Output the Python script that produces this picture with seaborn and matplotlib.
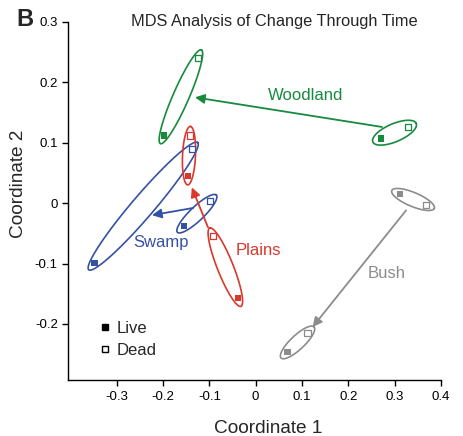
import seaborn as sns
import pandas as pd
import numpy as np
import matplotlib
matplotlib.use("Agg")
import matplotlib.pyplot as plt
from matplotlib.lines import Line2D

# habitat groups, values
habitats = ["Woodland", "Swamp", "Plains", "Bush"]
colors = ["#178a3e", "#3551a4", "#d9382c", "#8c8c8c"]

# "before" cluster (arrow start) and "after" cluster (arrow end)
live_before_x = [0.271, -0.155, -0.039, 0.312]
live_before_y = [0.107, -0.038, -0.157, 0.015]
dead_before_x = [0.329, -0.099, -0.092, 0.368]
dead_before_y = [0.126, 0.003, -0.055, -0.003]
live_after_x = [-0.198, -0.348, -0.146, 0.069]
live_after_y = [0.112, -0.099, 0.045, -0.246]
dead_after_x = [-0.125, -0.138, -0.142, 0.112]
dead_after_y = [0.240, 0.089, 0.112, -0.215]

arrow_x0 = [0.273, -0.135, -0.103, 0.325]
arrow_y0 = [0.126, -0.008, -0.040, -0.012]
arrow_x1 = [-0.131, -0.224, -0.138, 0.123]
arrow_y1 = [0.175, -0.020, 0.026, -0.205]

label_x = [0.107, -0.204, 0.006, 0.282]
label_y = [0.178, -0.065, -0.079, -0.117]

x_ticks = [-0.3, -0.2, -0.1, 0, 0.1, 0.2, 0.3, 0.4]
y_ticks = [-0.2, -0.1, 0, 0.1, 0.2, 0.3]

rows = []
for i, h in enumerate(habitats):
    rows.append([h, "before", "Live", live_before_x[i], live_before_y[i]])
    rows.append([h, "before", "Dead", dead_before_x[i], dead_before_y[i]])
    rows.append([h, "after", "Live", live_after_x[i], live_after_y[i]])
    rows.append([h, "after", "Dead", dead_after_x[i], dead_after_y[i]])
df = pd.DataFrame(rows, columns=["habitat", "period", "status", "x", "y"])

sns.set_theme(style="ticks")
plt.rcParams["font.family"] = ["Liberation Sans", "DejaVu Sans"]

fig = plt.figure(figsize=(4.64, 4.36), dpi=100)
ax = fig.add_axes([0.147, 0.128, 0.803, 0.822])
ax.set_xlim(-0.405, 0.4)
ax.set_ylim(-0.293, 0.3)

pal = dict(zip(habitats, colors))

# ellipses around each live/dead pair, built in pixel space
minor = {"Woodland": (9, 8), "Swamp": (7, 11), "Plains": (8, 6.5), "Bush": (7, 7)}
for h in habitats:
    for k, period in enumerate(["before", "after"]):
        sub = df[(df.habitat == h) & (df.period == period)]
        p = ax.transData.transform(sub[["x", "y"]].values)
        c = p.mean(axis=0)
        d = p[1] - p[0]
        ang = np.arctan2(d[1], d[0])
        a = np.hypot(*d) / 2 + 9
        b = minor[h][k]
        t = np.linspace(0, 2 * np.pi, 200)
        ex = a * np.cos(t)
        ey = b * np.sin(t)
        px = c[0] + ex * np.cos(ang) - ey * np.sin(ang)
        py = c[1] + ex * np.sin(ang) + ey * np.cos(ang)
        pts = ax.transData.inverted().transform(np.column_stack([px, py]))
        ax.plot(pts[:, 0], pts[:, 1], color=pal[h], lw=1.2)

live = df[df.status == "Live"]
dead = df[df.status == "Dead"]
sns.scatterplot(data=live, x="x", y="y", hue="habitat", palette=pal, marker="s",
                s=20, linewidth=0, legend=False, ax=ax, zorder=3)
sns.scatterplot(data=dead, x="x", y="y", hue="habitat", palette=pal, marker="s",
                s=20, linewidth=0.9, legend=False, ax=ax, zorder=3)
coll = ax.collections[-1]
coll.set_edgecolors(coll.get_facecolors())
coll.set_facecolors("white")

for i, h in enumerate(habitats):
    ax.annotate("", xy=(arrow_x1[i], arrow_y1[i]), xytext=(arrow_x0[i], arrow_y0[i]),
                arrowprops=dict(arrowstyle="-|>", color=colors[i], lw=1.3,
                                mutation_scale=14, shrinkA=0, shrinkB=0))
    ax.text(label_x[i], label_y[i], h, color=colors[i], fontsize=12,
            ha="center", va="center")

handles = [Line2D([], [], marker="s", ls="", color="black", markersize=4.5, label="Live"),
           Line2D([], [], marker="s", ls="", markerfacecolor="white",
                  markeredgecolor="black", markersize=4.5, label="Dead")]
ax.legend(handles=handles, loc="lower left", bbox_to_anchor=(0.04, 0.02),
          frameon=False, fontsize=12, handlelength=0.8, handletextpad=0.3,
          labelspacing=0.45)

ax.set_xticks(x_ticks)
ax.set_xticklabels(["0" if v == 0 else f"{v:g}" for v in x_ticks])
ax.set_yticks(y_ticks)
ax.set_yticklabels(["0" if v == 0 else f"{v:g}" for v in y_ticks])
ax.tick_params(labelsize=9.5, length=4, width=1, colors="black")
for s in ["top", "right"]:
    ax.spines[s].set_visible(False)
for s in ["left", "bottom"]:
    ax.spines[s].set_color("black")
    ax.spines[s].set_linewidth(1)

ax.set_xlabel("Coordinate 1", fontsize=13.7)
ax.set_ylabel("Coordinate 2", fontsize=13.7)
ax.xaxis.set_label_coords(0.536, -0.112)
ax.yaxis.set_label_coords(-0.11, 0.547)
ax.text(0.552, 0.3, "MDS Analysis of Change Through Time", fontsize=11.8,
        ha="center", va="center", transform=ax.get_yaxis_transform())
fig.text(0.054, 0.955, "B", fontsize=17, fontweight="bold", ha="center", va="center")

fig.savefig("out.png", dpi=100)
